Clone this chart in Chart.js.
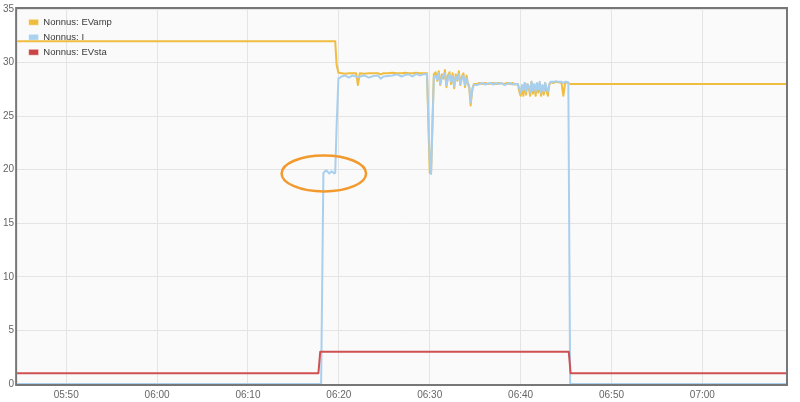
<!DOCTYPE html>
<html>
<head>
<meta charset="utf-8">
<script src="https://cdn.jsdelivr.net/npm/chart.js@4"></script>
<style>
  html, body { margin: 0; padding: 0; background: #fff; }
  #wrap { width: 800px; height: 402px; }
</style>
</head>
<body>
<div id="wrap"><canvas id="chart" width="800" height="402"></canvas></div>
<script>
// x values are minutes since midnight
const xMin = 344.6;
const xMax = 429.2;
const tickLabels = ['05:50', '06:00', '06:10', '06:20', '06:30', '06:40', '06:50', '07:00'];

const seriesNames = ['Nonnus: EVamp', 'Nonnus: I', 'Nonnus: EVsta'];

// shared time base for EVamp and I
const times = [
    344.6, 378.05, 378.3, 378.6, 378.95, 379.2, 379.5, 379.6, 379.75, 379.95,
    380.3, 380.7, 381.1, 381.5, 381.9, 382.1, 382.3, 382.8, 383.3, 383.8, 384.3, 384.6,
    384.9, 385.4, 385.9, 386.4, 386.9, 387.3, 387.7, 388.1, 388.5, 388.9, 389.3, 389.7,
    390.0, 390.15, 390.45,
    390.65, 390.82, 390.99, 391.16, 391.33, 391.5, 391.67, 391.84, 392.01, 392.18, 392.35, 392.52,
    392.69, 392.86, 393.03, 393.2, 393.37, 393.54, 393.71, 393.88, 394.05, 394.2, 394.35,
    394.5, 394.7, 394.85,
    395.2, 395.5, 395.8, 396.1, 396.4, 396.7, 397.0, 397.3, 397.6, 397.9, 398.2, 398.5, 398.8, 399.1, 399.4,
    399.7, 399.85, 400.0, 400.15, 400.3, 400.45, 400.6, 400.75, 400.9, 401.05, 401.2, 401.35, 401.5, 401.65,
    401.8, 401.95, 402.1, 402.25, 402.4, 402.55, 402.7, 402.85, 403.0, 403.15, 403.3, 403.6, 403.9, 404.2,
    404.5, 404.7, 404.9, 405.1,
    405.25, 405.45, 429.2
];

const ampValues = [
    32, 32, 32, 32, 32, 32, 32, 32, 29.8, 29.05,
    29.0, 28.95, 29.0, 29.0, 29.0, 27.9, 29.0, 28.95, 29.0, 29.0, 29.0, 28.9,
    29.0, 29.0, 29.05, 29.0, 29.0, 29.05, 29.0, 29.0, 29.05, 29.0, 29.0, 29.0,
    19.7, 19.8, 28.9,
    29.1, 28.3, 29.2, 27.9, 28.9, 28.5, 29.3, 27.7, 28.8, 29.1, 28.0, 29.0,
    27.6, 28.9, 28.3, 29.2, 27.9, 28.7, 29.0, 27.7, 28.8, 28.0, 27.6,
    26.0, 27.6, 28.0,
    28.0, 28.1, 28.0, 28.1, 28.0, 28.05, 28.1, 28.0, 28.1, 28.05, 28.0, 28.1, 28.0, 28.1, 27.95,
    28.0, 27.3, 26.9, 27.8, 26.9, 28.1, 27.0, 28.0, 27.6, 26.9, 28.2, 27.1, 27.9, 26.9,
    28.0, 27.2, 28.1, 26.9, 27.8, 27.0, 28.1, 27.3, 26.9, 27.9, 28.15, 28.1, 28.2, 28.15,
    28.1, 26.9, 28.1, 28.15,
    28.1, 28.0, 28.0
];

const curValues = [
    0, 0, 19.7, 19.95, 19.65, 19.85, 19.65, 19.7, 24, 28.5,
    28.7, 28.8, 28.6, 28.8, 28.7, 28.6, 28.7, 28.8, 28.6, 28.75, 28.8, 28.5,
    28.7, 28.75, 28.8, 28.9, 28.7, 28.85, 28.9, 28.7, 28.95, 28.8, 28.9, 28.9,
    21.0, 19.6, 28.6,
    28.8, 28.4, 29.0, 28.0, 28.6, 28.8, 29.0, 27.9, 28.5, 28.9, 28.2, 28.7,
    27.8, 28.7, 28.4, 28.9, 28.0, 28.5, 28.8, 27.9, 28.5, 28.1, 27.8,
    26.3, 27.5, 27.9,
    27.9, 28.0, 28.1, 27.95, 28.05, 28.1, 27.95, 28.1, 28.0, 28.1, 27.9, 28.0, 28.1, 27.95, 28.0,
    28.0, 27.6, 27.2, 27.9, 27.4, 28.1, 27.3, 28.0, 27.8, 27.2, 28.2, 27.4, 28.0, 27.3,
    28.1, 27.5, 28.2, 27.2, 27.9, 27.3, 28.1, 27.6, 27.3, 28.0, 28.2, 28.2, 28.25, 28.2,
    28.2, 28.1, 28.2, 28.2,
    28.15, 0, 0
];

const staTimes = [344.6, 377.75, 377.95, 405.3, 405.5, 429.2];
const staValues = [1, 1, 3, 3, 1, 1];

// hand-drawn ellipse around the 20 A step (data units)
const noteCenter = [378.35, 19.65];
const noteRadius = [4.65, 1.68];

const toMinutes = s => { const [h, m] = s.split(':').map(Number); return h * 60 + m; };
const toLabel = v => {
    const h = Math.floor(v / 60), m = Math.round(v % 60);
    return String(h).padStart(2, '0') + ':' + String(m).padStart(2, '0');
};
const zip = (xs, ys) => xs.map((x, i) => ({ x: x, y: ys[i] }));

const plotFrame = {
    id: 'plotFrame',
    beforeDraw(chart) {
        const { ctx, chartArea: a } = chart;
        ctx.save();
        ctx.fillStyle = '#fafafa';
        ctx.fillRect(a.left, a.top, a.width, a.height);
        ctx.restore();
    },
    beforeDatasetsDraw(chart) {
        const { ctx, chartArea: a } = chart;
        ctx.save();
        ctx.strokeStyle = '#777';
        ctx.lineWidth = 2;
        ctx.strokeRect(a.left - 1, a.top - 1, a.width + 2, a.height + 2);
        ctx.restore();
    },
    afterDatasetsDraw(chart) {
        const { ctx, scales: { x, y } } = chart;
        const cx = x.getPixelForValue(noteCenter[0]);
        const cy = y.getPixelForValue(noteCenter[1]);
        const rx = x.getPixelForValue(noteCenter[0] + noteRadius[0]) - cx;
        const ry = cy - y.getPixelForValue(noteCenter[1] + noteRadius[1]);
        ctx.save();
        ctx.strokeStyle = '#f29a2e';
        ctx.lineWidth = 2.5;
        ctx.beginPath();
        ctx.ellipse(cx, cy, rx, ry, 0, 0, Math.PI * 2);
        ctx.stroke();
        ctx.restore();
    },
    afterLayout(chart) {
        // nudge the in-plot legend away from the frame
        chart.legend.left += 6;
        chart.legend.top += 12;
    }
};

const lineStyle = { pointRadius: 0, borderWidth: 2, borderJoinStyle: 'round', tension: 0 };

new Chart(document.getElementById('chart'), {
    type: 'line',
    data: {
        datasets: [
            { label: seriesNames[0], data: zip(times, ampValues), borderColor: '#f0bd40', backgroundColor: '#eebd3c', order: 2, ...lineStyle },
            { label: seriesNames[1], data: zip(times, curValues), borderColor: '#a9cfee', backgroundColor: '#a9d1f0', order: 1, ...lineStyle },
            { label: seriesNames[2], data: zip(staTimes, staValues), borderColor: '#cf5050', backgroundColor: '#c94444', order: 0, ...lineStyle }
        ]
    },
    options: {
        responsive: false,
        animation: false,
        layout: { padding: { top: 7, right: 14, bottom: -4, left: 0 } },
        plugins: {
            tooltip: { enabled: false },
            legend: {
                position: 'chartArea',
                align: 'start',
                labels: {
                    boxWidth: 10,
                    boxHeight: 6,
                    padding: 5.5,
                    color: '#3a3a3a',
                    font: { family: 'Liberation Sans, Arial, sans-serif', size: 9.5 },
                    sort: (a, b) => a.datasetIndex - b.datasetIndex,
                    generateLabels(chart) {
                        return Chart.defaults.plugins.legend.labels.generateLabels(chart).map(item => {
                            item.lineWidth = 1;
                            item.strokeStyle = 'rgba(255,255,255,0.5)';
                            return item;
                        });
                    }
                }
            }
        },
        scales: {
            x: {
                type: 'linear',
                min: xMin,
                max: xMax,
                afterBuildTicks(scale) {
                    scale.ticks = tickLabels.map(s => ({ value: toMinutes(s) }));
                },
                ticks: {
                    callback: v => toLabel(v),
                    color: '#666',
                    padding: 5,
                    maxRotation: 0,
                    font: { family: 'Liberation Sans, Arial, sans-serif', size: 10 }
                },
                grid: { color: '#e4e4e4', drawTicks: false },
                border: { display: false }
            },
            y: {
                min: 0,
                max: 35,
                ticks: {
                    stepSize: 5,
                    color: '#666',
                    padding: 3,
                    font: { family: 'Liberation Sans, Arial, sans-serif', size: 10 }
                },
                grid: { color: '#e4e4e4', drawTicks: false },
                border: { display: false }
            }
        }
    },
    plugins: [plotFrame]
});
</script>
</body>
</html>
